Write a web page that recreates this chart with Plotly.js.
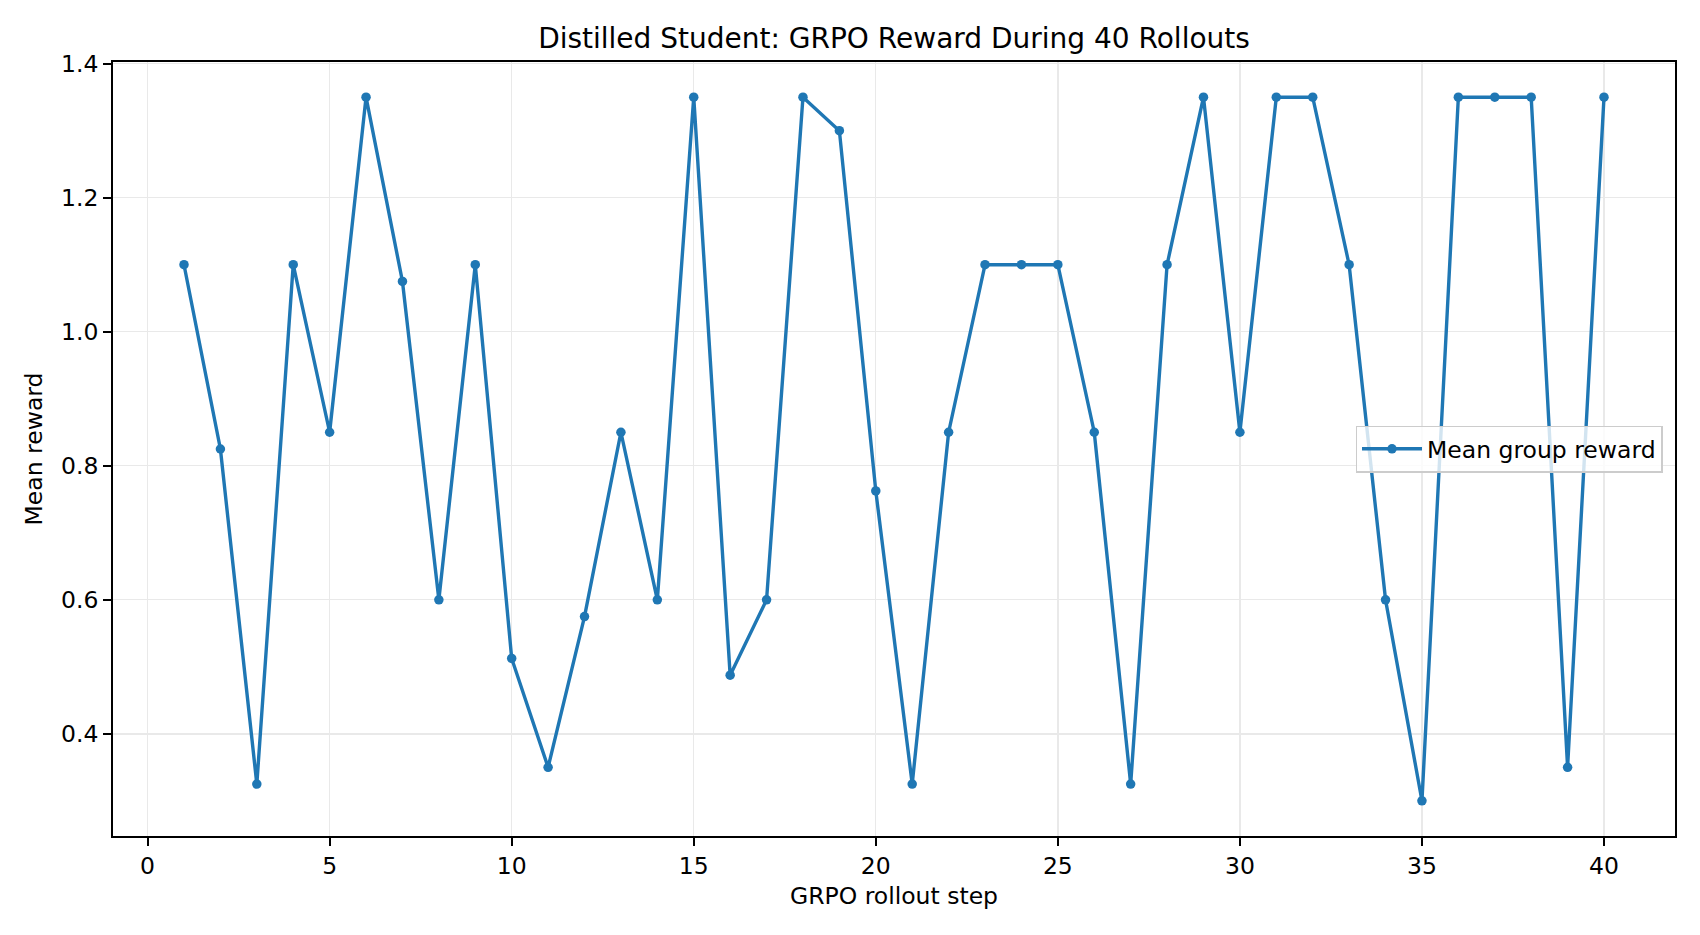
<!DOCTYPE html>
<html>
<head>
<meta charset="utf-8">
<script src="https://cdn.plot.ly/plotly-3.0.1.min.js"></script>
<style>
  body { margin: 0; background: #fff; }
  #chart { width: 1700px; height: 935px; }
</style>
</head>
<body>
<div id="chart"></div>
<script>
const steps = [1, 2, 3, 4, 5, 6, 7, 8, 9, 10,
  11, 12, 13, 14, 15, 16, 17, 18, 19, 20,
  21, 22, 23, 24, 25, 26, 27, 28, 29, 30,
  31, 32, 33, 34, 35, 36, 37, 38, 39, 40];
const meanReward = [1.1, 0.825, 0.325, 1.1, 0.85, 1.35, 1.075, 0.6, 1.1, 0.5125,
  0.35, 0.575, 0.85, 0.6, 1.35, 0.4875, 0.6, 1.35, 1.3, 0.7625,
  0.325, 0.85, 1.1, 1.1, 1.1, 0.85, 0.325, 1.1, 1.35, 0.85,
  1.35, 1.35, 1.1, 0.6, 0.3, 1.35, 1.35, 1.35, 0.35, 1.35];
const xTicks = [0, 5, 10, 15, 20, 25, 30, 35, 40];
const yTicks = [0.4, 0.6, 0.8, 1.0, 1.2, 1.4];

const font = 'DejaVu Sans, sans-serif';

const trace = {
  x: steps,
  y: meanReward,
  type: 'scatter',
  mode: 'lines+markers',
  name: 'Mean group reward',
  line: {color: '#1f77b4', width: 3.4},
  marker: {color: '#1f77b4', size: 9.5}
};

const axisStyle = {
  showline: true,
  mirror: true,
  linecolor: '#000',
  linewidth: 1.9,
  ticks: 'outside',
  ticklen: 8,
  tickwidth: 1.9,
  tickcolor: '#000',
  showgrid: true,
  gridcolor: '#e9e9e9',
  gridwidth: 1.4,
  zeroline: false,
  tickfont: {family: font, size: 23.5, color: '#000'}
};

const layout = {
  width: 1700,
  height: 935,
  paper_bgcolor: '#fff',
  plot_bgcolor: '#fff',
  showlegend: true,
  margin: {l: 113, r: 25, t: 62, b: 99},
  title: {
    text: 'Distilled Student: GRPO Reward During 40 Rollouts',
    font: {family: font, size: 28, color: '#000'},
    x: 0.5 + (113 - 25) / 2 / 1700,
    xanchor: 'center',
    y: 1 - 38 / 935,
    yanchor: 'middle'
  },
  xaxis: Object.assign({}, axisStyle, {
    range: [-0.95, 41.95],
    tickvals: xTicks,
    title: {text: 'GRPO rollout step', font: {family: font, size: 23.5, color: '#000'}, standoff: 8}
  }),
  yaxis: Object.assign({}, axisStyle, {
    range: [0.2475, 1.4025],
    tickvals: yTicks,
    tickformat: '.1f',
    title: {text: 'Mean reward', font: {family: font, size: 23.5, color: '#000'}, standoff: 12}
  }),
  legend: {
    x: 0.992,
    xanchor: 'right',
    y: 0.5,
    yanchor: 'middle',
    itemwidth: 60,
    bgcolor: 'rgba(255,255,255,0.8)',
    bordercolor: '#cccccc',
    borderwidth: 1.5,
    font: {family: font, size: 23.5, color: '#000'}
  }
};

Plotly.newPlot('chart', [trace], layout, {staticPlot: true});
</script>
</body>
</html>
